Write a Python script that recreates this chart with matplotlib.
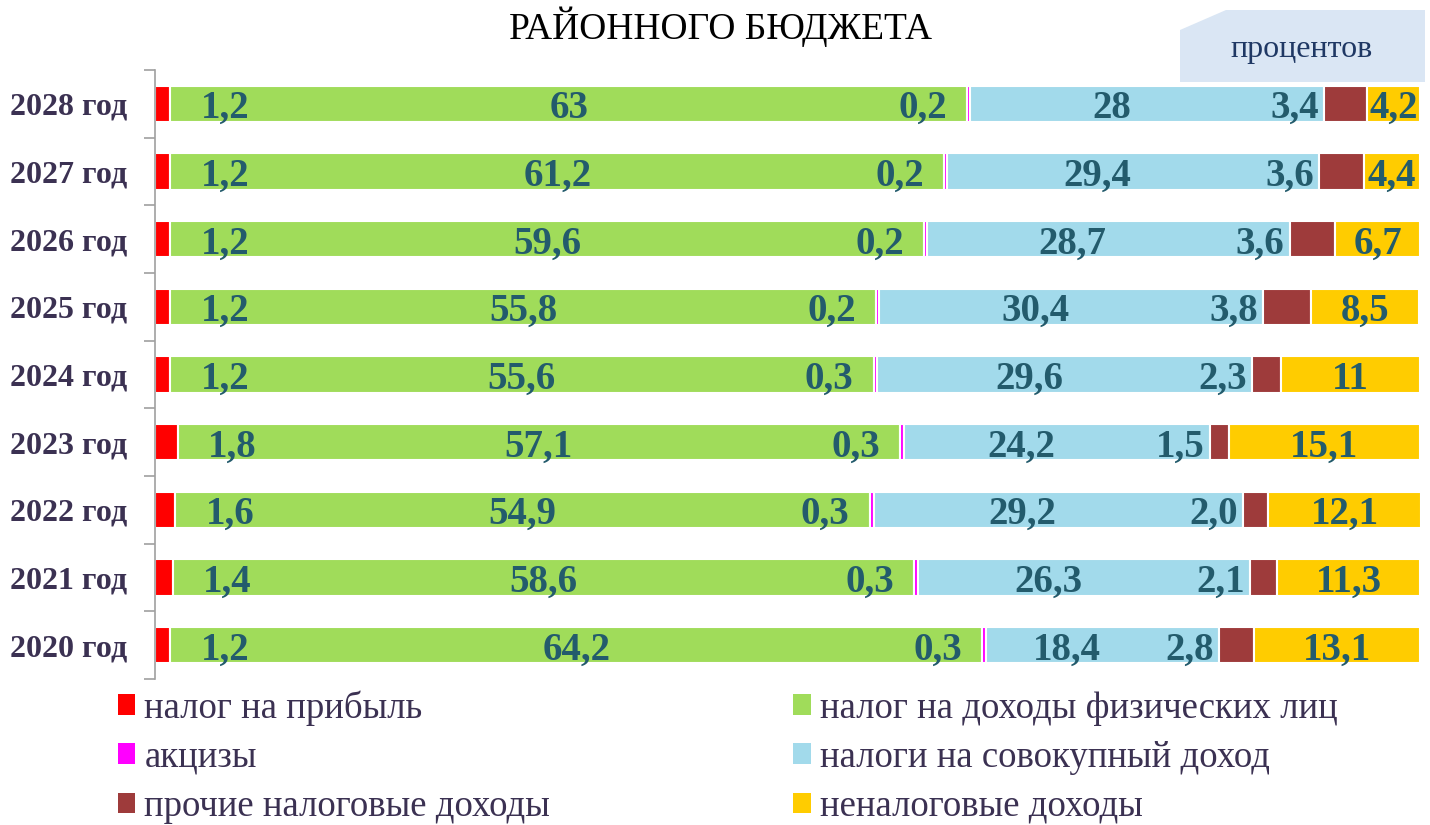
import matplotlib
matplotlib.use('Agg')
import matplotlib.pyplot as plt
from matplotlib.patches import Patch, Polygon

plt.rcParams['font.family'] = ['Liberation Serif', 'DejaVu Serif']

years = ['2020 год', '2021 год', '2022 год', '2023 год', '2024 год',
         '2025 год', '2026 год', '2027 год', '2028 год']

series_names = ['налог на прибыль', 'налог на доходы физических лиц', 'акцизы',
                'налоги на совокупный доход', 'прочие налоговые доходы',
                'неналоговые доходы']
colors = ['#FF0000', '#A0DC5A', '#FF00FF', '#A2DAEB', '#9E3B3B', '#FFCC00']

# values as printed on the chart, 2020 .. 2028
nalog_pribyl = ['1,2', '1,4', '1,6', '1,8', '1,2', '1,2', '1,2', '1,2', '1,2']
ndfl = ['64,2', '58,6', '54,9', '57,1', '55,6', '55,8', '59,6', '61,2', '63']
akcizy = ['0,3', '0,3', '0,3', '0,3', '0,3', '0,2', '0,2', '0,2', '0,2']
sovokupny = ['18,4', '26,3', '29,2', '24,2', '29,6', '30,4', '28,7', '29,4', '28']
prochie = ['2,8', '2,1', '2,0', '1,5', '2,3', '3,8', '3,6', '3,6', '3,4']
nenalog = ['13,1', '11,3', '12,1', '15,1', '11', '8,5', '6,7', '4,4', '4,2']

series = [nalog_pribyl, ndfl, akcizy, sovokupny, prochie, nenalog]

label_color = '#235B6C'
text_color = '#3B3152'

fig = plt.figure(figsize=(14.3, 8.25), dpi=100)
ax = fig.add_axes([155 / 1430, 1 - 679 / 825, 1265 / 1430, 609 / 825])

ypos = list(range(len(years)))
left = [0.0] * len(years)
for k, (vals, col) in enumerate(zip(series, colors)):
    nums = [float(v.replace(',', '.')) for v in vals]
    ax.barh(ypos, nums, left=left, height=0.54, color=col,
            edgecolor='white', linewidth=1.5)
    for i, (v, txt) in enumerate(zip(nums, vals)):
        start, end = left[i], left[i] + v
        if k == 0:
            x, ha = end + 2.4, 'left'
        elif k == 2:
            x, ha = start - 1.6, 'right'
        elif k == 3:
            x, ha = (start + end) / 2 - 2.8, 'center'
        elif k == 4:
            x, ha = start - 0.4, 'right'
        else:
            x, ha = (start + end) / 2, 'center'
        ax.text(x, i - 0.07, txt, ha=ha, va='center', fontsize=28,
                fontweight='bold', color=label_color)
    left = [a + b for a, b in zip(left, nums)]

ax.set_xlim(0, 100)
ax.set_ylim(-0.5, len(years) - 0.5)
ax.set_xticks([])
ax.set_yticks(ypos)
ax.set_yticklabels(years, fontsize=23, fontweight='bold', color=text_color)
ax.set_yticks([i - 0.5 for i in range(len(years) + 1)], minor=True)
ax.tick_params(axis='y', which='major', length=0, pad=20)
ax.tick_params(axis='y', which='minor', length=8, color='#A0A0A0', width=1.2)
for s in ['top', 'right', 'bottom']:
    ax.spines[s].set_visible(False)
ax.spines['left'].set_color('#A0A0A0')
ax.spines['left'].set_linewidth(1.2)

fig.text(720 / 1430, 1 - 27 / 825, 'РАЙОННОГО БЮДЖЕТА', ha='center', va='center',
         fontsize=27, color='black')

# "процентов" box with cut corner
box = Polygon([(1180 / 1430, 1 - 30 / 825), (1226 / 1430, 1 - 10 / 825),
               (1425 / 1430, 1 - 10 / 825), (1425 / 1430, 1 - 82 / 825),
               (1180 / 1430, 1 - 82 / 825)], closed=True,
              transform=fig.transFigure, facecolor='#DAE6F4', edgecolor='none')
fig.patches.append(box)
fig.text(1302 / 1430, 1 - 50 / 825, 'процентов', ha='center', va='center',
         fontsize=23, color='#1F3864')

handles = [Patch(facecolor=c, edgecolor='none') for c in colors]
order = [0, 2, 4, 1, 3, 5]
fig.legend([handles[i] for i in order], [series_names[i] for i in order],
           loc='upper left', bbox_to_anchor=(118 / 1430, 1 - 690 / 825), ncol=2,
           frameon=False, fontsize=26.5, handlelength=0.47, handleheight=0.47,
           handletextpad=0.25, columnspacing=6.6, labelspacing=0.4,
           labelcolor=text_color, borderaxespad=0, borderpad=0)

fig.savefig('out.png', dpi=100)
